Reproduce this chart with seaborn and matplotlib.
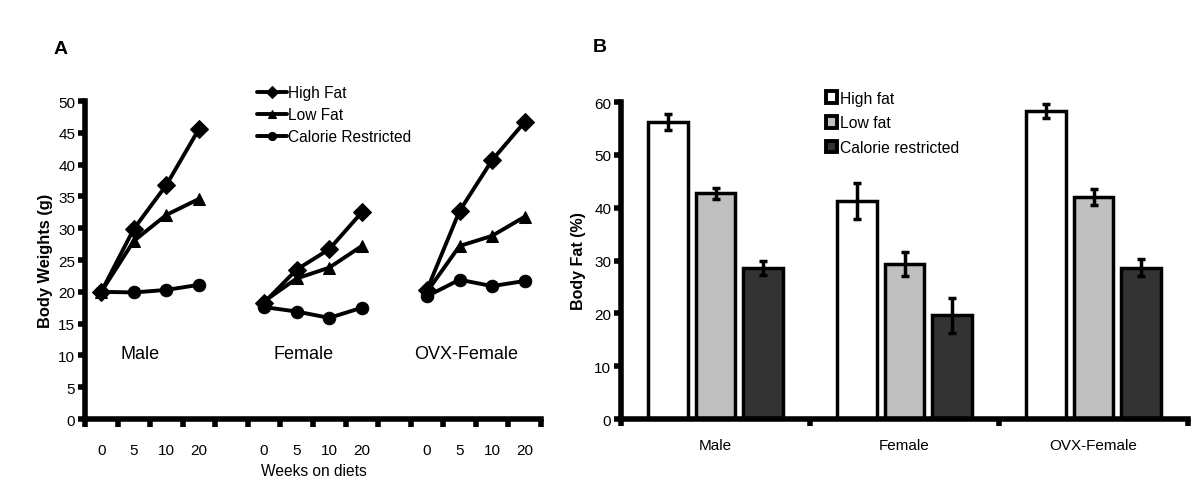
import pandas as pd
import matplotlib.pyplot as plt
from matplotlib.patches import Patch
import seaborn as sns

# Panel A data: body weight (g) by group / week / diet
groups = ['Male', 'Female', 'OVX-Female']
weeks = ['0', '5', '10', '20']
diets_a = ['High Fat', 'Low Fat', 'Calorie Restricted']
high_fat_wt = [[20.0, 29.9, 36.8, 45.6], [18.3, 23.5, 26.7, 32.5], [20.3, 32.7, 40.7, 46.7]]
low_fat_wt = [[20.0, 28.0, 32.1, 34.6], [18.5, 22.1, 23.8, 27.2], [20.0, 27.2, 28.8, 31.8]]
cal_res_wt = [[20.0, 19.9, 20.3, 21.1], [17.6, 16.9, 15.9, 17.5], [19.3, 21.9, 20.9, 21.7]]

# Panel B data: body fat (%) mean and error
diets_b = ['High fat', 'Low fat', 'Calorie restricted']
high_fat_pct = [56.2, 41.3, 58.3]
low_fat_pct = [42.7, 29.3, 42.0]
cal_res_pct = [28.6, 19.6, 28.6]
high_fat_err = [1.5, 3.4, 1.4]
low_fat_err = [1.1, 2.3, 1.5]
cal_res_err = [1.4, 3.3, 1.6]

sns.set_style('white')
plt.rcParams['font.family'] = ['Liberation Sans', 'DejaVu Sans']
plt.rcParams['text.color'] = 'black'
plt.rcParams['axes.labelcolor'] = 'black'
plt.rcParams['xtick.color'] = 'black'
plt.rcParams['ytick.color'] = 'black'

# long tables
rows = []
for diet, table in zip(diets_a, [high_fat_wt, low_fat_wt, cal_res_wt]):
    for g, grp in enumerate(groups):
        for w, wk in enumerate(weeks):
            rows.append({'diet': diet, 'group': grp, 'slot': g * 5 + w, 'weight': table[g][w]})
df_a = pd.DataFrame(rows)

rows = []
for diet, vals, errs in zip(diets_b, [high_fat_pct, low_fat_pct, cal_res_pct],
                            [high_fat_err, low_fat_err, cal_res_err]):
    for grp, v, e in zip(groups, vals, errs):
        rows.append({'diet': diet, 'group': grp, 'fat': v, 'err': e})
df_b = pd.DataFrame(rows)

fig = plt.figure(figsize=(12, 5.02), dpi=100)
ax1 = fig.add_axes([0.0708, 0.1633, 0.38, 0.6335])
ax2 = fig.add_axes([0.5175, 0.1633, 0.4725, 0.6315])

# ---- Panel A
sns.lineplot(data=df_a, x='slot', y='weight', hue='diet', style='diet', units='group',
             estimator=None, palette=['black'] * 3,
             markers={'High Fat': 'D', 'Low Fat': '^', 'Calorie Restricted': 'o'},
             dashes=False, markersize=9, linewidth=2.8, markeredgecolor='black', ax=ax1)
handles, labels = ax1.get_legend_handles_labels()
ax1.legend(handles, labels, loc='upper left', bbox_to_anchor=(0.209, 0.841),
           bbox_transform=fig.transFigure, frameon=False, fontsize=11.2, markerscale=0.65,
           handlelength=1.9, handletextpad=0.1, labelspacing=0.45, borderaxespad=0)

ax1.set_xlim(-0.5, 13.5)
ax1.set_ylim(0, 50)
ax1.set_yticks(range(0, 51, 5))
ax1.set_xticks([g * 5 + w for g in range(3) for w in range(4)])
ax1.set_xticklabels(weeks * 3)
ax1.set_xticks([i - 0.5 for i in range(15)], minor=True)
ax1.tick_params(axis='x', which='major', length=0, pad=17, labelsize=11)
ax1.tick_params(axis='x', which='minor', length=5.5, width=4, direction='out', bottom=True)
ax1.tick_params(axis='y', length=5, width=4, direction='out', pad=2, labelsize=11, left=True)
ax1.set_xlabel('')
ax1.set_ylabel('Body Weights (g)', fontsize=11.8, fontweight='bold', labelpad=4)
for g, grp in enumerate(groups):
    ax1.text(g * 5 + 1.2, 10.3, grp, ha='center', va='center', fontsize=13)
sns.despine(ax=ax1)
for s in ['left', 'bottom']:
    ax1.spines[s].set_linewidth(4)
    ax1.spines[s].set_color('black')

# ---- Panel B
bar_colors = ['white', '#c0c0c0', '#333333']
sns.barplot(data=df_b, x='group', y='fat', hue='diet', palette=bar_colors,
            edgecolor='black', linewidth=2.5, width=0.75, gap=0.16, errorbar=None, ax=ax2)
for cont, errs in zip(ax2.containers, [high_fat_err, low_fat_err, cal_res_err]):
    xs = [b.get_x() + b.get_width() / 2 for b in cont]
    ys = [b.get_height() for b in cont]
    ax2.errorbar(xs, ys, yerr=errs, fmt='none', ecolor='black', elinewidth=2.5,
                 capsize=3, capthick=2.5, zorder=5)
leg_handles = [Patch(facecolor=c, edgecolor='black', linewidth=2.8) for c in bar_colors]
ax2.legend(leg_handles, diets_b, loc='upper left', bbox_to_anchor=(0.683, 0.83),
           bbox_transform=fig.transFigure, frameon=False, fontsize=11.3,
           handlelength=0.7, handleheight=0.75, handletextpad=0.2, labelspacing=0.62,
           borderaxespad=0)
ax2.set_xlim(-0.5, 2.5)
ax2.set_ylim(0, 60)
ax2.set_yticks(range(0, 61, 10))
ax2.set_xticks([-0.5, 0.5, 1.5, 2.5], minor=True)
ax2.tick_params(axis='x', which='major', length=0, pad=14, labelsize=11)
ax2.tick_params(axis='x', which='minor', length=5, width=4, direction='out', bottom=True)
ax2.tick_params(axis='y', length=5, width=4, direction='out', pad=2, labelsize=11, left=True)
ax2.set_xlabel('')
ax2.set_ylabel('Body Fat (%)', fontsize=11.5, fontweight='bold', labelpad=6)
sns.despine(ax=ax2)
for s in ['left', 'bottom']:
    ax2.spines[s].set_linewidth(4)
    ax2.spines[s].set_color('black')

fig.text(314 / 1200, 1 - 471 / 502, 'Weeks on diets', ha='center', va='center', fontsize=11.2)
fig.text(61 / 1200, 1 - 50 / 502, 'A', ha='center', va='center', fontsize=14, fontweight='bold')
fig.text(600 / 1200, 1 - 48 / 502, 'B', ha='center', va='center', fontsize=14, fontweight='bold')

fig.savefig('out.png', dpi=100)
